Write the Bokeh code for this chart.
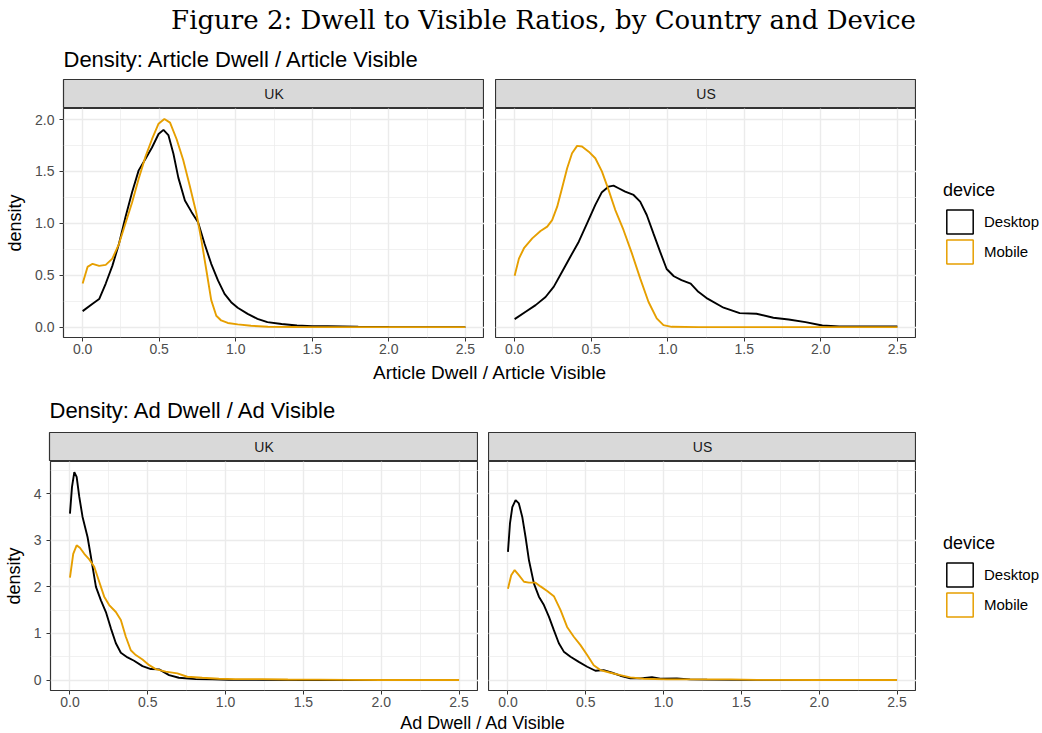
from bokeh.plotting import figure
from bokeh.layouts import column, row
from bokeh.models import (Range1d, SingleIntervalTicker, PrintfTickFormatter, Legend,
                          LegendItem, Spacer, Grid)
from bokeh.core.properties import value
from bokeh.embed import file_html
from bokeh.resources import INLINE

# ---------------- texts ----------------
MAIN_TITLE = "Figure 2: Dwell to Visible Ratios, by Country and Device"
ART_TITLE = "Density: Article Dwell / Article Visible"
AD_TITLE = "Density: Ad Dwell / Ad Visible"
ART_XLABEL = "Article Dwell / Article Visible"
AD_XLABEL = "Ad Dwell / Ad Visible"
Y_LABEL = "density"
LEGEND_TITLE = "device"
COUNTRIES = ["UK", "US"]
DEVICES = ["Desktop", "Mobile"]
DEVICE_COLORS = ["#000000", "#E69F00"]

# ---------------- data ----------------
# Article dwell / article visible, UK
art_uk_desktop_x = [0, 0.065, 0.108, 0.151, 0.194, 0.237, 0.28, 0.323, 0.366, 0.41, 0.453, 0.496, 0.528,
                    0.56, 0.593, 0.625, 0.668, 0.711, 0.754, 0.797, 0.84, 0.884, 0.927, 0.97, 1.013, 1.078,
                    1.142, 1.207, 1.3, 1.4, 1.5, 1.6, 1.8, 2.0, 2.25, 2.5]
art_uk_desktop_y = [0.154, 0.225, 0.27, 0.42, 0.59, 0.80, 1.06, 1.30, 1.51, 1.62, 1.73, 1.86, 1.90,
                    1.85, 1.67, 1.44, 1.22, 1.11, 1.01, 0.80, 0.61, 0.45, 0.32, 0.24, 0.186, 0.128,
                    0.08, 0.048, 0.03, 0.015, 0.01, 0.008, 0.003, 0.001, 0.0, 0.0]
art_uk_mobile_x = [0, 0.032, 0.065, 0.108, 0.151, 0.194, 0.237, 0.28, 0.323, 0.366, 0.41, 0.453, 0.496,
                   0.534, 0.571, 0.614, 0.657, 0.70, 0.744, 0.776, 0.808, 0.84, 0.873, 0.905, 0.948,
                   1.013, 1.10, 1.21, 1.4, 1.7, 2.0, 2.5]
art_uk_mobile_y = [0.42, 0.58, 0.61, 0.59, 0.60, 0.66, 0.80, 1.00, 1.20, 1.43, 1.64, 1.81, 1.96,
                   2.005, 1.97, 1.81, 1.61, 1.36, 1.09, 0.835, 0.55, 0.26, 0.11, 0.064, 0.04,
                   0.026, 0.013, 0.004, 0.001, 0.0, 0.0, 0.0]
# Article dwell / article visible, US
art_us_desktop_x = [0, 0.072, 0.137, 0.202, 0.256, 0.31, 0.364, 0.419, 0.473, 0.527, 0.57, 0.614, 0.646,
                    0.679, 0.722, 0.777, 0.82, 0.863, 0.907, 0.95, 0.993, 1.04, 1.09, 1.15, 1.2, 1.26,
                    1.365, 1.47, 1.58, 1.69, 1.79, 1.9, 2.01, 2.12, 2.34, 2.5]
art_us_desktop_y = [0.077, 0.148, 0.212, 0.29, 0.39, 0.534, 0.678, 0.823, 1.0, 1.177, 1.30, 1.354, 1.363,
                    1.338, 1.305, 1.273, 1.209, 1.08, 0.90, 0.727, 0.56, 0.49, 0.453, 0.42, 0.34, 0.274,
                    0.187, 0.135, 0.129, 0.09, 0.074, 0.048, 0.016, 0.006, 0.006, 0.006]
art_us_mobile_x = [0, 0.028, 0.061, 0.115, 0.169, 0.213, 0.245, 0.278, 0.31, 0.343, 0.375, 0.408, 0.44,
                   0.484, 0.527, 0.57, 0.614, 0.657, 0.711, 0.766, 0.82, 0.874, 0.928, 0.972, 1.026,
                   1.2, 1.5, 2.0, 2.5]
art_us_mobile_y = [0.495, 0.66, 0.76, 0.855, 0.926, 0.968, 1.03, 1.16, 1.34, 1.53, 1.675, 1.746, 1.74,
                   1.69, 1.627, 1.50, 1.32, 1.13, 0.936, 0.71, 0.47, 0.244, 0.084, 0.019, 0.003,
                   0.0, 0.0, 0.0, 0.0]
# Ad dwell / ad visible, UK
ad_uk_desktop_x = [0, 0.013, 0.028, 0.043, 0.06, 0.081, 0.113, 0.135, 0.167, 0.199, 0.231, 0.263, 0.295,
                   0.327, 0.37, 0.412, 0.466, 0.52, 0.573, 0.637, 0.70, 0.808, 0.915, 1.02, 1.2, 1.5,
                   2.0, 2.5]
ad_uk_desktop_y = [3.57, 4.14, 4.46, 4.36, 3.93, 3.5, 3.07, 2.64, 2.0, 1.71, 1.46, 1.11, 0.79,
                   0.586, 0.486, 0.414, 0.30, 0.236, 0.229, 0.107, 0.05, 0.021, 0.014, 0.007, 0.004, 0.002,
                   0.001, 0.0]
ad_uk_mobile_x = [0, 0.021, 0.043, 0.064, 0.092, 0.124, 0.156, 0.188, 0.22, 0.252, 0.295, 0.327, 0.359,
                  0.391, 0.423, 0.466, 0.509, 0.551, 0.615, 0.69, 0.754, 0.85, 0.957, 1.064, 1.235, 1.4,
                  1.6, 1.8, 2.0, 2.5]
ad_uk_mobile_y = [2.2, 2.71, 2.89, 2.84, 2.71, 2.59, 2.43, 2.11, 1.79, 1.61, 1.46, 1.29, 0.93,
                  0.64, 0.536, 0.44, 0.32, 0.236, 0.18, 0.143, 0.071, 0.05, 0.029, 0.021, 0.02, 0.012,
                  0.01, 0.003, 0.001, 0.0]
# Ad dwell / ad visible, US
ad_us_desktop_x = [0, 0.013, 0.028, 0.049, 0.07, 0.092, 0.113, 0.135, 0.167, 0.199, 0.231, 0.263, 0.295,
                   0.327, 0.359, 0.402, 0.455, 0.509, 0.562, 0.615, 0.669, 0.722, 0.786, 0.85, 0.925,
                   0.979, 1.085, 1.17, 1.28, 1.5, 2.0, 2.5]
ad_us_desktop_y = [2.75, 3.36, 3.71, 3.86, 3.79, 3.5, 3.07, 2.57, 2.07, 1.79, 1.61, 1.36, 1.07,
                   0.79, 0.61, 0.5, 0.39, 0.286, 0.2, 0.214, 0.157, 0.093, 0.036, 0.036, 0.064,
                   0.029, 0.036, 0.014, 0.01, 0.005, 0.003, 0.002]
ad_us_mobile_x = [0, 0.021, 0.043, 0.07, 0.103, 0.135, 0.177, 0.209, 0.252, 0.295, 0.338, 0.38, 0.423,
                  0.466, 0.509, 0.551, 0.594, 0.658, 0.722, 0.786, 0.872, 1.02, 1.235, 1.43, 1.6, 2.0, 2.5]
ad_us_mobile_y = [1.96, 2.25, 2.36, 2.25, 2.11, 2.09, 2.09, 2.01, 1.91, 1.8, 1.5, 1.14, 0.93,
                  0.75, 0.536, 0.32, 0.214, 0.157, 0.107, 0.057, 0.029, 0.014, 0.014, 0.014, 0.005, 0.002, 0.0]

SANS = "Liberation Sans"
SERIF = "DejaVu Serif"
NAN = float("nan")
PANEL_H = 251       # 229 px frame + 22 px for the x tick labels


def text_fig(w, h):
    p = figure(width=w, height=h, x_range=Range1d(0, w), y_range=Range1d(h, 0),
               x_axis_type=None, y_axis_type=None, toolbar_location=None,
               output_backend="svg", min_border=0, outline_line_color=None, title=None)
    return p


def add_text(p, x, y, txt, align, font, size):
    p.text(x=[x], y=[y], text=[txt], text_align=align, text_baseline="middle",
           text_font=value(font), text_font_size=size, text_color="#000000")


def strip_fig(label, w, left):
    p = figure(width=w, height=30, x_range=Range1d(0, 1), y_range=Range1d(0, 1),
               x_axis_type=None, y_axis_type=None, toolbar_location=None,
               output_backend="svg", min_border_left=left, min_border_right=0,
               min_border_top=1, min_border_bottom=0, title=None,
               background_fill_color="#D9D9D9", outline_line_color="#333333",
               outline_line_width=1.2)
    p.text(x=[0.5], y=[0.5], text=[label], text_align="center", text_baseline="middle",
           text_font=value(SANS), text_font_size="14px", text_color="#1A1A1A")
    return p


def style_grid(g):
    g.grid_line_color = "#EBEBEB"
    g.grid_line_width = 1.4
    g.minor_grid_line_color = "#EBEBEB"
    g.minor_grid_line_width = 0.7


def panel_fig(w, left, yr, yint, yfmt, show_y, curves):
    p = figure(width=w, height=PANEL_H, x_range=Range1d(-0.125, 2.625), y_range=Range1d(*yr),
               toolbar_location=None, output_backend="svg",
               min_border_left=left, min_border_right=0, min_border_top=0, min_border_bottom=22,
               title=None, y_axis_type=("linear" if show_y else None),
               outline_line_color="#333333", outline_line_width=1.2)
    axes = [p.xaxis[0]]
    p.xaxis[0].ticker = SingleIntervalTicker(interval=0.5, num_minor_ticks=2)
    p.xaxis[0].formatter = PrintfTickFormatter(format="%.1f")
    if show_y:
        p.yaxis[0].ticker = SingleIntervalTicker(interval=yint, num_minor_ticks=2)
        p.yaxis[0].formatter = PrintfTickFormatter(format=yfmt)
        p.yaxis[0].axis_label = Y_LABEL
        p.yaxis[0].axis_label_standoff = 7
        axes.append(p.yaxis[0])
    else:
        g = Grid(dimension=1, ticker=SingleIntervalTicker(interval=yint, num_minor_ticks=2))
        p.add_layout(g)
        style_grid(g)
    for ax in axes:
        ax.axis_line_color = None
        ax.major_tick_in = 0
        ax.major_tick_out = 4
        ax.major_tick_line_color = "#333333"
        ax.minor_tick_in = 0
        ax.minor_tick_out = 0
        ax.major_label_standoff = 5
        ax.major_label_text_font = SANS
        ax.major_label_text_font_size = "14px"
        ax.major_label_text_color = "#4D4D4D"
        ax.axis_label_text_font = SANS
        ax.axis_label_text_font_size = "18px"
        ax.axis_label_text_font_style = "normal"
        ax.axis_label_text_color = "#000000"
    p.xaxis[0].major_label_standoff = 2
    for g in p.xgrid:
        style_grid(g)
    for g in p.ygrid:
        style_grid(g)
    for (xs, ys), col in zip(curves, DEVICE_COLORS):
        p.line(xs, ys, line_color=col, line_width=1.9)
    return p


def legend_fig():
    p = figure(width=126, height=PANEL_H, x_range=Range1d(0, 1), y_range=Range1d(0, 1),
               x_axis_type=None, y_axis_type=None, toolbar_location=None,
               output_backend="svg", min_border_left=0, min_border_right=0,
               min_border_top=0, min_border_bottom=22, outline_line_color=None, title=None)
    items = []
    for dev, col in zip(DEVICES, DEVICE_COLORS):
        # legend key proxy (no visible data mark)
        r = p.quad(left=[NAN], right=[NAN], top=[NAN], bottom=[NAN], fill_color=None,
                   line_color=col, line_width=1.5)
        items.append(LegendItem(label=dev, renderers=[r]))
    leg = Legend(items=items, title=LEGEND_TITLE, location="center_left",
                 title_text_font=SANS, title_text_font_size="18px", title_text_font_style="normal",
                 title_text_color="#000000", label_text_font=SANS, label_text_font_size="15px",
                 label_text_color="#000000", glyph_width=33, glyph_height=30, label_height=30,
                 spacing=0, padding=0, margin=27, label_standoff=8, title_standoff=6,
                 border_line_color=None, background_fill_alpha=0)
    p.add_layout(leg)
    return p


# ---------------- header ----------------
header = text_fig(1042, 78)
add_text(header, 543, 19, MAIN_TITLE, "center", SERIF, "26px")
add_text(header, 63, 58.5, ART_TITLE, "left", SANS, "22px")

# ---------------- top block ----------------
top_uk_s = strip_fig(COUNTRIES[0], 484, 63)
top_us_s = strip_fig(COUNTRIES[1], 421, 0)
top_uk_p = panel_fig(484, 63, (-0.1, 2.106), 0.5, "%.1f", True,
                     [(art_uk_desktop_x, art_uk_desktop_y), (art_uk_mobile_x, art_uk_mobile_y)])
top_us_p = panel_fig(421, 0, (-0.1, 2.106), 0.5, "%.1f", False,
                     [(art_us_desktop_x, art_us_desktop_y), (art_us_mobile_x, art_us_mobile_y)])
top_leg = legend_fig()

mid = text_fig(1042, 72)
add_text(mid, 489.5, 12.5, ART_XLABEL, "center", SANS, "19px")
add_text(mid, 49, 51, AD_TITLE, "left", SANS, "22px")

# ---------------- bottom block ----------------
bot_uk_s = strip_fig(COUNTRIES[0], 478, 49)
bot_us_s = strip_fig(COUNTRIES[1], 428, 0)
bot_uk_p = panel_fig(478, 49, (-0.224, 4.69), 1, "%d", True,
                     [(ad_uk_desktop_x, ad_uk_desktop_y), (ad_uk_mobile_x, ad_uk_mobile_y)])
bot_us_p = panel_fig(428, 0, (-0.224, 4.69), 1, "%d", False,
                     [(ad_us_desktop_x, ad_us_desktop_y), (ad_us_mobile_x, ad_us_mobile_y)])
bot_leg = legend_fig()

footer = text_fig(1042, 21)
add_text(footer, 482.5, 10.5, AD_XLABEL, "center", SANS, "18px")

layout = column(
    header,
    row(top_uk_s, Spacer(width=11, height=30), top_us_s, Spacer(width=126, height=30)),
    row(top_uk_p, Spacer(width=11, height=PANEL_H), top_us_p, top_leg),
    mid,
    row(bot_uk_s, Spacer(width=10, height=30), bot_us_s, Spacer(width=126, height=30)),
    row(bot_uk_p, Spacer(width=10, height=PANEL_H), bot_us_p, bot_leg),
    footer,
)

open("out.html", "w").write(file_html(layout, INLINE))
